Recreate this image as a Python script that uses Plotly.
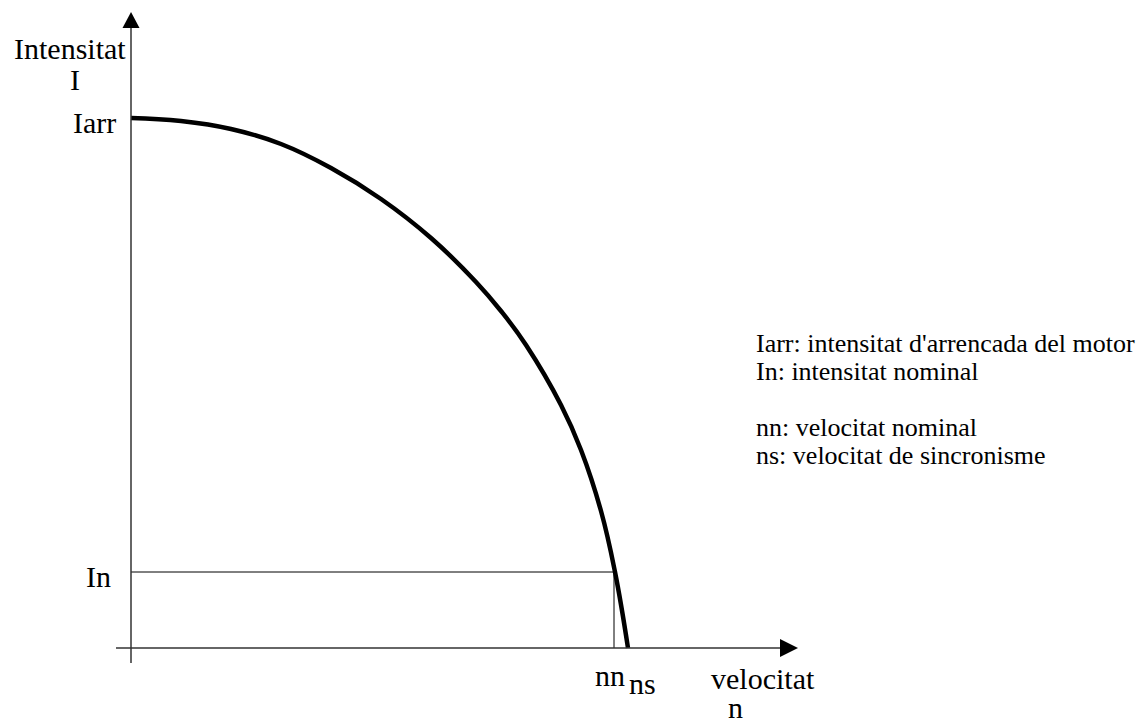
import plotly.graph_objects as go

# ---- data (speed n vs current I, arbitrary units) ----
speed_n = [0, 50, 100, 150, 200, 250, 300, 345, 370, 395, 430, 450, 470, 484, 497]
current_I = [530, 527, 519, 504, 480, 449, 410, 366, 337, 303, 243, 198, 137, 76, 0]

I_arr = 530      # starting current
I_n = 76         # nominal current
n_n = 483        # nominal speed
n_s = 497        # synchronous speed

legend_lines = [
    "Iarr: intensitat d'arrencada del motor",
    "In: intensitat nominal",
    "nn: velocitat nominal",
    "ns: velocitat de sincronisme",
]

FONT = "Liberation Serif, Times New Roman, serif"

fig = go.Figure()

# main curve
fig.add_trace(go.Scatter(
    x=speed_n, y=current_I, mode="lines",
    line=dict(color="black", width=4.5, shape="spline", smoothing=1.2),
    hoverinfo="skip", showlegend=False,
))

# nominal point guide lines
fig.add_trace(go.Scatter(
    x=[0, n_n, n_n], y=[I_n, I_n, 0], mode="lines",
    line=dict(color="black", width=1), hoverinfo="skip", showlegend=False,
))

axis_col = "#333333"
shapes = [
    # y axis
    dict(type="line", xref="x", yref="y", x0=0, x1=0, y0=-15, y1=622,
         line=dict(color=axis_col, width=1.5)),
    # x axis
    dict(type="line", xref="x", yref="y", x0=-15, x1=651, y0=0, y1=0,
         line=dict(color=axis_col, width=1.5)),
    # y arrow head
    dict(type="path", xref="x", yref="y",
         path="M -8.5 620 L 8.5 620 L 0 636 Z",
         fillcolor="black", line=dict(color="black", width=0)),
    # x arrow head
    dict(type="path", xref="x", yref="y",
         path="M 649 9 L 649 -9 L 667 0 Z",
         fillcolor="black", line=dict(color="black", width=0)),
]

ann = []
def add(text, x, y, size, xanchor="center", yanchor="middle"):
    ann.append(dict(text=text, x=x, y=y, xref="x", yref="y", showarrow=False,
                    xanchor=xanchor, yanchor=yanchor,
                    font=dict(family=FONT, size=size, color="black")))

LS = 30
add("Intensitat", -61, 600, LS)
add("I", -56, 569, LS)
add("Iarr", -13, I_arr - 4, LS, xanchor="right")
add("In", -18, I_n - 4, LS, xanchor="right")
add("nn", n_n - 4, -27, LS)
add("ns", n_s + 14, -35, LS)
add("velocitat", 632, -30, LS)
add("n", 604, -59, LS)

LG = 26
legend_y = [305, 277, 221, 193]
for txt, yy in zip(legend_lines, legend_y):
    add(txt, 623, yy, LG, xanchor="left")

fig.update_layout(
    width=1147, height=722, autosize=False,
    margin=dict(l=0, r=0, t=0, b=0),
    paper_bgcolor="white", plot_bgcolor="white",
    xaxis=dict(range=[-131, 1016], visible=False, fixedrange=True),
    yaxis=dict(range=[-74, 648], visible=False, fixedrange=True),
    shapes=shapes, annotations=ann, showlegend=False,
)

fig.write_html(
    "out.html",
    config={"displayModeBar": False},
    post_script="document.body.style.margin='0';document.body.style.padding='0';document.body.style.overflow='hidden';",
)
